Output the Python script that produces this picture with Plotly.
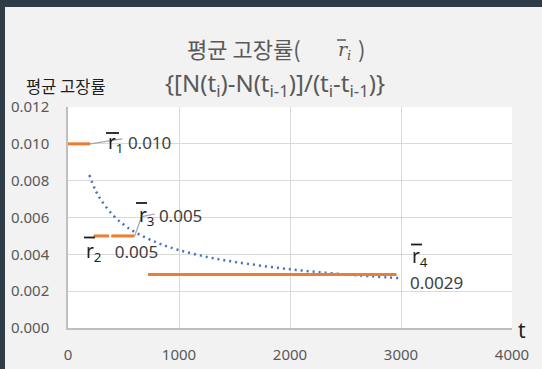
import plotly.graph_objects as go

# ---- data ----
seg_start = [0, 230, 390, 720]          # t where each average-rate segment begins
seg_end = [200, 370, 600, 2960]         # t where each segment ends
rates = [0.010, 0.005, 0.005, 0.0029]   # average failure rate r̄_i
rate_labels = ["0.010", "0.005", "0.005", "0.0029"]

trend_t = [192, 250, 300, 400, 500, 600, 800, 1000, 1250, 1500, 2000, 2500, 3000]
trend_y = [0.00831, 0.00745, 0.00693, 0.00616, 0.00562, 0.00522, 0.00464,
           0.00423, 0.00386, 0.00359, 0.00319, 0.00291, 0.00270]

x_ticks = [0, 1000, 2000, 3000, 4000]
y_ticks = [0.000, 0.002, 0.004, 0.006, 0.008, 0.010, 0.012]

# ---- layout geometry ----
W, H = 542, 369
L, R, T, B = 68, 30, 107, 41
PW, PH = W - L - R, H - T - B


def px(xp):
    return (xp - L) / PW


def py(yp):
    return (H - B - yp) / PH


ORANGE = "#ED7D31"
BLUE = "#4472C4"
GRID = "#d9d9d9"
TXT = "#404040"
DARKTXT = "#1e1e1e"
DARK = "#2f3c45"
FONT = "Noto Sans, Noto Sans CJK KR, sans-serif"
KFONT = "Noto Sans CJK KR, Noto Sans, sans-serif"

fig = go.Figure()

fig.add_trace(go.Scatter(
    x=trend_t, y=trend_y, mode="lines",
    line=dict(color=BLUE, width=2.5, dash="2px,4px", shape="spline"),
    hoverinfo="skip", showlegend=False))

for s, e, r in zip(seg_start, seg_end, rates):
    fig.add_trace(go.Scatter(
        x=[s, e], y=[r, r], mode="lines",
        line=dict(color=ORANGE, width=3), showlegend=False))

# leader lines (gray) from segment ends to their labels
fig.add_shape(type="path", xref="x", yref="y",
              path=f"M {seg_end[0]},{rates[0]} L {seg_end[0] + 290},{rates[0] + 0.00027}",
              line=dict(color="#a6a6a6", width=1.2))
fig.add_shape(type="path", xref="x", yref="y",
              path=(f"M {seg_end[2]},{rates[2]} L {seg_end[2] + 64},{rates[2] + 0.00105} "
                    f"L {seg_end[2] + 184},{rates[2] + 0.00119}"),
              line=dict(color="#a6a6a6", width=1.2))

lab_font = dict(family=FONT, size=17, color=TXT)


def rtext(i):
    return f"<span style='color:{DARKTXT};font-size:19px'>r<sub>{i}</sub></span>"


# r1
fig.add_annotation(x=px(106), y=py(143), xref="paper", yref="paper", showarrow=False,
                   xanchor="left", yanchor="middle",
                   text=f"{rtext(1)} {rate_labels[0]}", font=lab_font)
# r3
fig.add_annotation(x=px(137), y=py(216), xref="paper", yref="paper", showarrow=False,
                   xanchor="left", yanchor="middle",
                   text=f"{rtext(3)} {rate_labels[2]}", font=lab_font)
# r2
fig.add_annotation(x=px(84), y=py(252), xref="paper", yref="paper", showarrow=False,
                   xanchor="left", yanchor="middle",
                   text=f"{rtext(2)}   {rate_labels[1]}", font=lab_font)
# r4
fig.add_annotation(x=px(410), y=py(257), xref="paper", yref="paper", showarrow=False,
                   xanchor="left", yanchor="middle",
                   text=rtext(4), font=lab_font)
fig.add_annotation(x=px(408), y=py(282), xref="paper", yref="paper", showarrow=False,
                   xanchor="left", yanchor="middle",
                   text=rate_labels[3], font=lab_font)

# overbars above the r symbols
for x0, x1, yb in [(106, 119, 133), (136, 147, 203), (84, 95, 237.5), (411, 422, 244.5)]:
    fig.add_shape(type="line", xref="paper", yref="paper",
                  x0=px(x0), x1=px(x1), y0=py(yb), y1=py(yb),
                  line=dict(color=DARKTXT, width=1.8))

# titles
fig.add_annotation(x=px(185), y=py(48), xref="paper", yref="paper", showarrow=False,
                   xanchor="left", yanchor="middle",
                   text="평균 고장률(",
                   font=dict(family=KFONT, size=22, color="#595959"))
fig.add_annotation(x=px(336), y=py(50), xref="paper", yref="paper", showarrow=False,
                   xanchor="left", yanchor="middle",
                   text="<i>r<sub>i</sub></i>",
                   font=dict(family="DejaVu Serif, serif", size=19, color="#595959"))
fig.add_annotation(x=px(356), y=py(48), xref="paper", yref="paper", showarrow=False,
                   xanchor="left", yanchor="middle",
                   text=")",
                   font=dict(family=KFONT, size=22, color="#595959"))
fig.add_shape(type="line", xref="paper", yref="paper",
              x0=px(337), x1=px(346), y0=py(40), y1=py(40),
              line=dict(color="#595959", width=1.5))
fig.add_annotation(x=px(275), y=py(84), xref="paper", yref="paper", showarrow=False,
                   xanchor="center", yanchor="middle",
                   text="{[N(t<sub>i</sub>)-N(t<sub>i-1</sub>)]/(t<sub>i</sub>-t<sub>i-1</sub>)}",
                   font=dict(family=FONT, size=24, color="#595959"))
fig.add_annotation(x=px(24), y=py(86), xref="paper", yref="paper", showarrow=False,
                   xanchor="left", yanchor="middle",
                   text="평균 고장률",
                   font=dict(family=KFONT, size=16.5, color=DARKTXT))
fig.add_annotation(x=px(522), y=py(330), xref="paper", yref="paper", showarrow=False,
                   xanchor="center", yanchor="middle",
                   text="t", font=dict(family=FONT, size=21, color=DARKTXT))

# dark window frame strips (top and left edges)
fig.add_shape(type="rect", xref="paper", yref="paper",
              x0=px(0), x1=px(W), y0=py(7), y1=py(0),
              fillcolor=DARK, line=dict(width=0), layer="above")
fig.add_shape(type="rect", xref="paper", yref="paper",
              x0=px(0), x1=px(5), y0=py(H), y1=py(0),
              fillcolor=DARK, line=dict(width=0), layer="above")

fig.update_xaxes(range=[0, 4000], tickvals=x_ticks, ticktext=[str(v) for v in x_ticks],
                 showgrid=True, gridcolor=GRID, gridwidth=1,
                 showline=True, linecolor="#bfbfbf", linewidth=1.5,
                 zeroline=False, ticks="", ticklabelstandoff=12,
                 tickfont=dict(family=FONT, size=15, color="#595959"))
fig.update_yaxes(range=[0, 0.012], tickvals=y_ticks, ticktext=[f"{v:.3f}" for v in y_ticks],
                 showgrid=True, gridcolor=GRID, gridwidth=1,
                 showline=True, linecolor="#bfbfbf", linewidth=1.5,
                 zeroline=False, ticks="", ticklabelstandoff=14,
                 tickfont=dict(family=FONT, size=15, color="#595959"))

fig.update_layout(width=W, height=H,
                  margin=dict(l=L, r=R, t=T, b=B, autoexpand=False),
                  paper_bgcolor="#f2f2f2", plot_bgcolor="white",
                  showlegend=False)

fig.write_html("out.html", config={"displayModeBar": False},
               post_script="document.body.style.margin='0';document.body.style.overflow='hidden';")
